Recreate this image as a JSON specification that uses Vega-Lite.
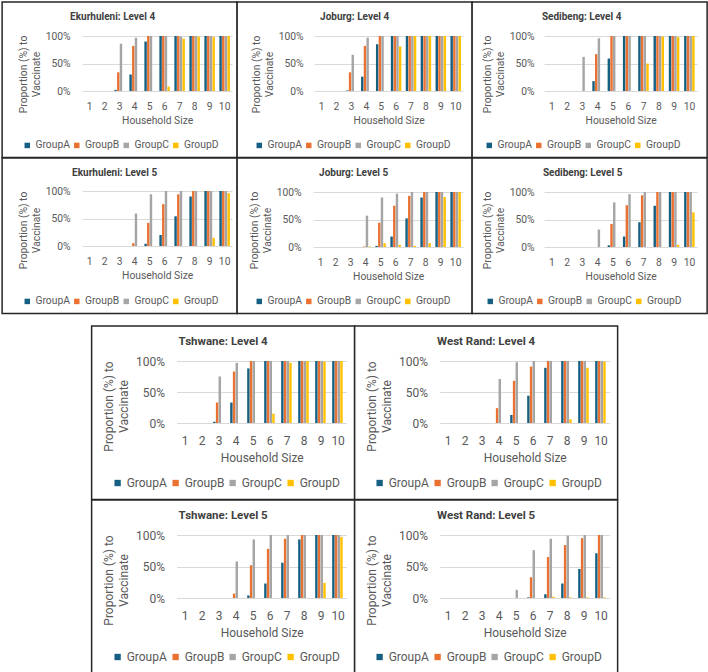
{
  "$schema": "https://vega.github.io/schema/vega-lite/v6.json",
  "padding": {"left": 1, "top": 1, "right": 1, "bottom": 1},
  "background": "white",
  "data": {
    "values": [
      {"panel": "EK4", "size": 3, "group": "GroupA", "p": 0.02},
      {"panel": "EK4", "size": 3, "group": "GroupB", "p": 0.34},
      {"panel": "EK4", "size": 3, "group": "GroupC", "p": 0.86},
      {"panel": "EK4", "size": 4, "group": "GroupA", "p": 0.30},
      {"panel": "EK4", "size": 4, "group": "GroupB", "p": 0.82},
      {"panel": "EK4", "size": 4, "group": "GroupC", "p": 0.97},
      {"panel": "EK4", "size": 5, "group": "GroupA", "p": 0.90},
      {"panel": "EK4", "size": 5, "group": "GroupB", "p": 1},
      {"panel": "EK4", "size": 5, "group": "GroupC", "p": 1},
      {"panel": "EK4", "size": 6, "group": "GroupA", "p": 1},
      {"panel": "EK4", "size": 6, "group": "GroupB", "p": 1},
      {"panel": "EK4", "size": 6, "group": "GroupC", "p": 1},
      {"panel": "EK4", "size": 6, "group": "GroupD", "p": 0.08},
      {"panel": "EK4", "size": 7, "group": "GroupA", "p": 1},
      {"panel": "EK4", "size": 7, "group": "GroupB", "p": 1},
      {"panel": "EK4", "size": 7, "group": "GroupC", "p": 0.99},
      {"panel": "EK4", "size": 7, "group": "GroupD", "p": 0.95},
      {"panel": "EK4", "size": 8, "group": "GroupA", "p": 1},
      {"panel": "EK4", "size": 8, "group": "GroupB", "p": 1},
      {"panel": "EK4", "size": 8, "group": "GroupC", "p": 1},
      {"panel": "EK4", "size": 8, "group": "GroupD", "p": 0.99},
      {"panel": "EK4", "size": 9, "group": "GroupA", "p": 1},
      {"panel": "EK4", "size": 9, "group": "GroupB", "p": 1},
      {"panel": "EK4", "size": 9, "group": "GroupC", "p": 1},
      {"panel": "EK4", "size": 9, "group": "GroupD", "p": 0.98},
      {"panel": "EK4", "size": 10, "group": "GroupA", "p": 1},
      {"panel": "EK4", "size": 10, "group": "GroupB", "p": 1},
      {"panel": "EK4", "size": 10, "group": "GroupC", "p": 1},
      {"panel": "EK4", "size": 10, "group": "GroupD", "p": 1},

      {"panel": "JO4", "size": 3, "group": "GroupA", "p": 0.01},
      {"panel": "JO4", "size": 3, "group": "GroupB", "p": 0.34},
      {"panel": "JO4", "size": 3, "group": "GroupC", "p": 0.66},
      {"panel": "JO4", "size": 4, "group": "GroupA", "p": 0.26},
      {"panel": "JO4", "size": 4, "group": "GroupB", "p": 0.82},
      {"panel": "JO4", "size": 4, "group": "GroupC", "p": 0.97},
      {"panel": "JO4", "size": 5, "group": "GroupA", "p": 0.85},
      {"panel": "JO4", "size": 5, "group": "GroupB", "p": 1},
      {"panel": "JO4", "size": 5, "group": "GroupC", "p": 1},
      {"panel": "JO4", "size": 6, "group": "GroupA", "p": 1},
      {"panel": "JO4", "size": 6, "group": "GroupB", "p": 1},
      {"panel": "JO4", "size": 6, "group": "GroupC", "p": 1},
      {"panel": "JO4", "size": 6, "group": "GroupD", "p": 0.81},
      {"panel": "JO4", "size": 7, "group": "GroupA", "p": 1},
      {"panel": "JO4", "size": 7, "group": "GroupB", "p": 1},
      {"panel": "JO4", "size": 7, "group": "GroupC", "p": 1},
      {"panel": "JO4", "size": 7, "group": "GroupD", "p": 1},
      {"panel": "JO4", "size": 8, "group": "GroupA", "p": 1},
      {"panel": "JO4", "size": 8, "group": "GroupB", "p": 1},
      {"panel": "JO4", "size": 8, "group": "GroupC", "p": 1},
      {"panel": "JO4", "size": 8, "group": "GroupD", "p": 1},
      {"panel": "JO4", "size": 9, "group": "GroupA", "p": 1},
      {"panel": "JO4", "size": 9, "group": "GroupB", "p": 1},
      {"panel": "JO4", "size": 9, "group": "GroupC", "p": 1},
      {"panel": "JO4", "size": 9, "group": "GroupD", "p": 1},
      {"panel": "JO4", "size": 10, "group": "GroupA", "p": 1},
      {"panel": "JO4", "size": 10, "group": "GroupB", "p": 1},
      {"panel": "JO4", "size": 10, "group": "GroupC", "p": 1},
      {"panel": "JO4", "size": 10, "group": "GroupD", "p": 1},

      {"panel": "SE4", "size": 3, "group": "GroupC", "p": 0.62},
      {"panel": "SE4", "size": 4, "group": "GroupA", "p": 0.18},
      {"panel": "SE4", "size": 4, "group": "GroupB", "p": 0.67},
      {"panel": "SE4", "size": 4, "group": "GroupC", "p": 0.96},
      {"panel": "SE4", "size": 5, "group": "GroupA", "p": 0.59},
      {"panel": "SE4", "size": 5, "group": "GroupB", "p": 1},
      {"panel": "SE4", "size": 5, "group": "GroupC", "p": 1},
      {"panel": "SE4", "size": 6, "group": "GroupA", "p": 1},
      {"panel": "SE4", "size": 6, "group": "GroupB", "p": 1},
      {"panel": "SE4", "size": 6, "group": "GroupC", "p": 1},
      {"panel": "SE4", "size": 7, "group": "GroupA", "p": 1},
      {"panel": "SE4", "size": 7, "group": "GroupB", "p": 1},
      {"panel": "SE4", "size": 7, "group": "GroupC", "p": 1},
      {"panel": "SE4", "size": 7, "group": "GroupD", "p": 0.50},
      {"panel": "SE4", "size": 8, "group": "GroupA", "p": 1},
      {"panel": "SE4", "size": 8, "group": "GroupB", "p": 1},
      {"panel": "SE4", "size": 8, "group": "GroupC", "p": 1},
      {"panel": "SE4", "size": 8, "group": "GroupD", "p": 0.99},
      {"panel": "SE4", "size": 9, "group": "GroupA", "p": 1},
      {"panel": "SE4", "size": 9, "group": "GroupB", "p": 1},
      {"panel": "SE4", "size": 9, "group": "GroupC", "p": 1},
      {"panel": "SE4", "size": 9, "group": "GroupD", "p": 0.98},
      {"panel": "SE4", "size": 10, "group": "GroupA", "p": 1},
      {"panel": "SE4", "size": 10, "group": "GroupB", "p": 1},
      {"panel": "SE4", "size": 10, "group": "GroupC", "p": 1},
      {"panel": "SE4", "size": 10, "group": "GroupD", "p": 1},

      {"panel": "EK5", "size": 4, "group": "GroupB", "p": 0.05},
      {"panel": "EK5", "size": 4, "group": "GroupC", "p": 0.59},
      {"panel": "EK5", "size": 5, "group": "GroupA", "p": 0.04},
      {"panel": "EK5", "size": 5, "group": "GroupB", "p": 0.42},
      {"panel": "EK5", "size": 5, "group": "GroupC", "p": 0.94},
      {"panel": "EK5", "size": 6, "group": "GroupA", "p": 0.20},
      {"panel": "EK5", "size": 6, "group": "GroupB", "p": 0.76},
      {"panel": "EK5", "size": 6, "group": "GroupC", "p": 1},
      {"panel": "EK5", "size": 7, "group": "GroupA", "p": 0.54},
      {"panel": "EK5", "size": 7, "group": "GroupB", "p": 0.94},
      {"panel": "EK5", "size": 7, "group": "GroupC", "p": 1},
      {"panel": "EK5", "size": 8, "group": "GroupA", "p": 0.90},
      {"panel": "EK5", "size": 8, "group": "GroupB", "p": 1},
      {"panel": "EK5", "size": 8, "group": "GroupC", "p": 1},
      {"panel": "EK5", "size": 9, "group": "GroupA", "p": 1},
      {"panel": "EK5", "size": 9, "group": "GroupB", "p": 1},
      {"panel": "EK5", "size": 9, "group": "GroupC", "p": 1},
      {"panel": "EK5", "size": 9, "group": "GroupD", "p": 0.15},
      {"panel": "EK5", "size": 10, "group": "GroupA", "p": 1},
      {"panel": "EK5", "size": 10, "group": "GroupB", "p": 1},
      {"panel": "EK5", "size": 10, "group": "GroupC", "p": 1},
      {"panel": "EK5", "size": 10, "group": "GroupD", "p": 0.96},

      {"panel": "JO5", "size": 4, "group": "GroupB", "p": 0.01},
      {"panel": "JO5", "size": 4, "group": "GroupC", "p": 0.57},
      {"panel": "JO5", "size": 4, "group": "GroupD", "p": 0.01},
      {"panel": "JO5", "size": 5, "group": "GroupA", "p": 0.02},
      {"panel": "JO5", "size": 5, "group": "GroupB", "p": 0.44},
      {"panel": "JO5", "size": 5, "group": "GroupC", "p": 0.90},
      {"panel": "JO5", "size": 5, "group": "GroupD", "p": 0.07},
      {"panel": "JO5", "size": 6, "group": "GroupA", "p": 0.19},
      {"panel": "JO5", "size": 6, "group": "GroupB", "p": 0.75},
      {"panel": "JO5", "size": 6, "group": "GroupC", "p": 0.97},
      {"panel": "JO5", "size": 6, "group": "GroupD", "p": 0.04},
      {"panel": "JO5", "size": 7, "group": "GroupA", "p": 0.52},
      {"panel": "JO5", "size": 7, "group": "GroupB", "p": 0.93},
      {"panel": "JO5", "size": 7, "group": "GroupC", "p": 1},
      {"panel": "JO5", "size": 7, "group": "GroupD", "p": 0.02},
      {"panel": "JO5", "size": 8, "group": "GroupA", "p": 0.90},
      {"panel": "JO5", "size": 8, "group": "GroupB", "p": 1},
      {"panel": "JO5", "size": 8, "group": "GroupC", "p": 1},
      {"panel": "JO5", "size": 8, "group": "GroupD", "p": 0.07},
      {"panel": "JO5", "size": 9, "group": "GroupA", "p": 1},
      {"panel": "JO5", "size": 9, "group": "GroupB", "p": 1},
      {"panel": "JO5", "size": 9, "group": "GroupC", "p": 1},
      {"panel": "JO5", "size": 9, "group": "GroupD", "p": 0.91},
      {"panel": "JO5", "size": 10, "group": "GroupA", "p": 1},
      {"panel": "JO5", "size": 10, "group": "GroupB", "p": 1},
      {"panel": "JO5", "size": 10, "group": "GroupC", "p": 1},
      {"panel": "JO5", "size": 10, "group": "GroupD", "p": 1},

      {"panel": "SE5", "size": 4, "group": "GroupC", "p": 0.32},
      {"panel": "SE5", "size": 5, "group": "GroupA", "p": 0.03},
      {"panel": "SE5", "size": 5, "group": "GroupB", "p": 0.42},
      {"panel": "SE5", "size": 5, "group": "GroupC", "p": 0.81},
      {"panel": "SE5", "size": 6, "group": "GroupA", "p": 0.19},
      {"panel": "SE5", "size": 6, "group": "GroupB", "p": 0.76},
      {"panel": "SE5", "size": 6, "group": "GroupC", "p": 0.96},
      {"panel": "SE5", "size": 7, "group": "GroupA", "p": 0.45},
      {"panel": "SE5", "size": 7, "group": "GroupB", "p": 0.94},
      {"panel": "SE5", "size": 7, "group": "GroupC", "p": 1},
      {"panel": "SE5", "size": 8, "group": "GroupA", "p": 0.75},
      {"panel": "SE5", "size": 8, "group": "GroupB", "p": 1},
      {"panel": "SE5", "size": 8, "group": "GroupC", "p": 1},
      {"panel": "SE5", "size": 9, "group": "GroupA", "p": 1},
      {"panel": "SE5", "size": 9, "group": "GroupB", "p": 1},
      {"panel": "SE5", "size": 9, "group": "GroupC", "p": 1},
      {"panel": "SE5", "size": 9, "group": "GroupD", "p": 0.04},
      {"panel": "SE5", "size": 10, "group": "GroupA", "p": 1},
      {"panel": "SE5", "size": 10, "group": "GroupB", "p": 1},
      {"panel": "SE5", "size": 10, "group": "GroupC", "p": 1},
      {"panel": "SE5", "size": 10, "group": "GroupD", "p": 0.63},

      {"panel": "TS4", "size": 3, "group": "GroupA", "p": 0.02},
      {"panel": "TS4", "size": 3, "group": "GroupB", "p": 0.33},
      {"panel": "TS4", "size": 3, "group": "GroupC", "p": 0.75},
      {"panel": "TS4", "size": 4, "group": "GroupA", "p": 0.33},
      {"panel": "TS4", "size": 4, "group": "GroupB", "p": 0.83},
      {"panel": "TS4", "size": 4, "group": "GroupC", "p": 0.97},
      {"panel": "TS4", "size": 5, "group": "GroupA", "p": 0.88},
      {"panel": "TS4", "size": 5, "group": "GroupB", "p": 1},
      {"panel": "TS4", "size": 5, "group": "GroupC", "p": 1},
      {"panel": "TS4", "size": 6, "group": "GroupA", "p": 1},
      {"panel": "TS4", "size": 6, "group": "GroupB", "p": 1},
      {"panel": "TS4", "size": 6, "group": "GroupC", "p": 1},
      {"panel": "TS4", "size": 6, "group": "GroupD", "p": 0.15},
      {"panel": "TS4", "size": 7, "group": "GroupA", "p": 1},
      {"panel": "TS4", "size": 7, "group": "GroupB", "p": 1},
      {"panel": "TS4", "size": 7, "group": "GroupC", "p": 1},
      {"panel": "TS4", "size": 7, "group": "GroupD", "p": 0.97},
      {"panel": "TS4", "size": 8, "group": "GroupA", "p": 1},
      {"panel": "TS4", "size": 8, "group": "GroupB", "p": 1},
      {"panel": "TS4", "size": 8, "group": "GroupC", "p": 1},
      {"panel": "TS4", "size": 8, "group": "GroupD", "p": 1},
      {"panel": "TS4", "size": 9, "group": "GroupA", "p": 1},
      {"panel": "TS4", "size": 9, "group": "GroupB", "p": 1},
      {"panel": "TS4", "size": 9, "group": "GroupC", "p": 1},
      {"panel": "TS4", "size": 9, "group": "GroupD", "p": 0.99},
      {"panel": "TS4", "size": 10, "group": "GroupA", "p": 1},
      {"panel": "TS4", "size": 10, "group": "GroupB", "p": 1},
      {"panel": "TS4", "size": 10, "group": "GroupC", "p": 1},
      {"panel": "TS4", "size": 10, "group": "GroupD", "p": 1},

      {"panel": "WR4", "size": 4, "group": "GroupB", "p": 0.24},
      {"panel": "WR4", "size": 4, "group": "GroupC", "p": 0.71},
      {"panel": "WR4", "size": 5, "group": "GroupA", "p": 0.13},
      {"panel": "WR4", "size": 5, "group": "GroupB", "p": 0.68},
      {"panel": "WR4", "size": 5, "group": "GroupC", "p": 0.98},
      {"panel": "WR4", "size": 6, "group": "GroupA", "p": 0.44},
      {"panel": "WR4", "size": 6, "group": "GroupB", "p": 0.91},
      {"panel": "WR4", "size": 6, "group": "GroupC", "p": 1},
      {"panel": "WR4", "size": 7, "group": "GroupA", "p": 0.89},
      {"panel": "WR4", "size": 7, "group": "GroupB", "p": 1},
      {"panel": "WR4", "size": 7, "group": "GroupC", "p": 1},
      {"panel": "WR4", "size": 8, "group": "GroupA", "p": 1},
      {"panel": "WR4", "size": 8, "group": "GroupB", "p": 1},
      {"panel": "WR4", "size": 8, "group": "GroupC", "p": 1},
      {"panel": "WR4", "size": 8, "group": "GroupD", "p": 0.06},
      {"panel": "WR4", "size": 9, "group": "GroupA", "p": 1},
      {"panel": "WR4", "size": 9, "group": "GroupB", "p": 1},
      {"panel": "WR4", "size": 9, "group": "GroupC", "p": 1},
      {"panel": "WR4", "size": 9, "group": "GroupD", "p": 0.89},
      {"panel": "WR4", "size": 10, "group": "GroupA", "p": 1},
      {"panel": "WR4", "size": 10, "group": "GroupB", "p": 1},
      {"panel": "WR4", "size": 10, "group": "GroupC", "p": 1},
      {"panel": "WR4", "size": 10, "group": "GroupD", "p": 0.99},

      {"panel": "TS5", "size": 4, "group": "GroupB", "p": 0.07},
      {"panel": "TS5", "size": 4, "group": "GroupC", "p": 0.58},
      {"panel": "TS5", "size": 5, "group": "GroupA", "p": 0.04},
      {"panel": "TS5", "size": 5, "group": "GroupB", "p": 0.52},
      {"panel": "TS5", "size": 5, "group": "GroupC", "p": 0.93},
      {"panel": "TS5", "size": 6, "group": "GroupA", "p": 0.23},
      {"panel": "TS5", "size": 6, "group": "GroupB", "p": 0.78},
      {"panel": "TS5", "size": 6, "group": "GroupC", "p": 1},
      {"panel": "TS5", "size": 7, "group": "GroupA", "p": 0.56},
      {"panel": "TS5", "size": 7, "group": "GroupB", "p": 0.94},
      {"panel": "TS5", "size": 7, "group": "GroupC", "p": 1},
      {"panel": "TS5", "size": 8, "group": "GroupA", "p": 0.93},
      {"panel": "TS5", "size": 8, "group": "GroupB", "p": 1},
      {"panel": "TS5", "size": 8, "group": "GroupC", "p": 1},
      {"panel": "TS5", "size": 9, "group": "GroupA", "p": 1},
      {"panel": "TS5", "size": 9, "group": "GroupB", "p": 1},
      {"panel": "TS5", "size": 9, "group": "GroupC", "p": 1},
      {"panel": "TS5", "size": 9, "group": "GroupD", "p": 0.24},
      {"panel": "TS5", "size": 10, "group": "GroupA", "p": 1},
      {"panel": "TS5", "size": 10, "group": "GroupB", "p": 1},
      {"panel": "TS5", "size": 10, "group": "GroupC", "p": 1},
      {"panel": "TS5", "size": 10, "group": "GroupD", "p": 0.97},

      {"panel": "WR5", "size": 5, "group": "GroupC", "p": 0.13},
      {"panel": "WR5", "size": 6, "group": "GroupA", "p": 0.01},
      {"panel": "WR5", "size": 6, "group": "GroupB", "p": 0.33},
      {"panel": "WR5", "size": 6, "group": "GroupC", "p": 0.76},
      {"panel": "WR5", "size": 7, "group": "GroupA", "p": 0.06},
      {"panel": "WR5", "size": 7, "group": "GroupB", "p": 0.65},
      {"panel": "WR5", "size": 7, "group": "GroupC", "p": 0.94},
      {"panel": "WR5", "size": 7, "group": "GroupD", "p": 0.02},
      {"panel": "WR5", "size": 8, "group": "GroupA", "p": 0.23},
      {"panel": "WR5", "size": 8, "group": "GroupB", "p": 0.84},
      {"panel": "WR5", "size": 8, "group": "GroupC", "p": 0.99},
      {"panel": "WR5", "size": 8, "group": "GroupD", "p": 0.01},
      {"panel": "WR5", "size": 9, "group": "GroupA", "p": 0.46},
      {"panel": "WR5", "size": 9, "group": "GroupB", "p": 0.95},
      {"panel": "WR5", "size": 9, "group": "GroupC", "p": 1},
      {"panel": "WR5", "size": 9, "group": "GroupD", "p": 0.01},
      {"panel": "WR5", "size": 10, "group": "GroupA", "p": 0.71},
      {"panel": "WR5", "size": 10, "group": "GroupB", "p": 1},
      {"panel": "WR5", "size": 10, "group": "GroupC", "p": 1},
      {"panel": "WR5", "size": 10, "group": "GroupD", "p": 0.01}
    ]
  },
  "spacing": 10,
  "center": true,
  "resolve": {"scale": {"color": "independent"}, "legend": {"color": "independent"}},
  "vconcat": [
    {
      "columns": 3,
      "spacing": 0,
      "bounds": "flush",
      "resolve": {"scale": {"color": "independent"}, "legend": {"color": "independent"}},
      "concat": [
        {
          "width": 235, "height": 155.5,
          "title": {"text": "Ekurhuleni: Level 4", "dx": -7, "offset": -20, "fontSize": 10},
          "transform": [{"filter": "datum.panel == 'EK4'"}],
          "mark": "bar",
          "encoding": {
            "x": {"field": "size", "type": "ordinal", "title": "Household Size",
              "scale": {"domain": [1, 2, 3, 4, 5, 6, 7, 8, 9, 10], "range": [80, 230], "paddingInner": 0.3, "paddingOuter": 0.15},
              "axis": {"offset": -66.5, "labelPadding": 10, "titlePadding": 4, "labelFontSize": 10.3, "titleFontSize": 10.3}},
            "xOffset": {"field": "group", "type": "nominal", "scale": {"domain": ["GroupA", "GroupB", "GroupC", "GroupD"], "paddingInner": 0.1}},
            "y": {"field": "p", "type": "quantitative", "title": ["Proportion (%) to", "Vaccinate"],
              "scale": {"domain": [0, 1], "range": [89, 34]},
              "axis": {"offset": -70, "values": [0, 0.5, 1], "format": ".0%", "labelFontSize": 10.3, "titleFontSize": 10.3, "titleY": 72, "titlePadding": 4, "titleLineHeight": 13}},
            "color": {"field": "group", "type": "nominal", "title": null,
              "scale": {"domain": ["GroupA", "GroupB", "GroupC", "GroupD"], "range": ["#156082", "#E97132", "#A5A5A5", "#FFC000"]},
              "legend": {"legendX": 20, "legendY": 138, "labelFontSize": 10.3, "symbolSize": 30, "columnPadding": 1.5}}
          }
        },
        {
          "width": 235, "height": 155.5,
          "title": {"text": "Joburg: Level 4", "dx": 0, "offset": -20, "fontSize": 10},
          "transform": [{"filter": "datum.panel == 'JO4'"}],
          "mark": "bar",
          "encoding": {
            "x": {"field": "size", "type": "ordinal", "title": "Household Size",
              "scale": {"domain": [1, 2, 3, 4, 5, 6, 7, 8, 9, 10], "range": [77, 226], "paddingInner": 0.3, "paddingOuter": 0.15},
              "axis": {"offset": -66.5, "labelPadding": 10, "titlePadding": 4, "labelFontSize": 10.3, "titleFontSize": 10.3}},
            "xOffset": {"field": "group", "type": "nominal", "scale": {"domain": ["GroupA", "GroupB", "GroupC", "GroupD"], "paddingInner": 0.1}},
            "y": {"field": "p", "type": "quantitative", "title": ["Proportion (%) to", "Vaccinate"],
              "scale": {"domain": [0, 1], "range": [89, 34]},
              "axis": {"offset": -68, "values": [0, 0.5, 1], "format": ".0%", "labelFontSize": 10.3, "titleFontSize": 10.3, "titleY": 72, "titlePadding": 4, "titleLineHeight": 13}},
            "color": {"field": "group", "type": "nominal", "title": null,
              "scale": {"domain": ["GroupA", "GroupB", "GroupC", "GroupD"], "range": ["#156082", "#E97132", "#A5A5A5", "#FFC000"]},
              "legend": {"legendX": 17, "legendY": 138, "labelFontSize": 10.3, "symbolSize": 30, "columnPadding": 1.5}}
          }
        },
        {
          "width": 235, "height": 155.5,
          "title": {"text": "Sedibeng: Level 4", "dx": -8, "offset": -20, "fontSize": 10},
          "transform": [{"filter": "datum.panel == 'SE4'"}],
          "mark": "bar",
          "encoding": {
            "x": {"field": "size", "type": "ordinal", "title": "Household Size",
              "scale": {"domain": [1, 2, 3, 4, 5, 6, 7, 8, 9, 10], "range": [72, 225], "paddingInner": 0.3, "paddingOuter": 0.15},
              "axis": {"offset": -66.5, "labelPadding": 10, "titlePadding": 4, "labelFontSize": 10.3, "titleFontSize": 10.3}},
            "xOffset": {"field": "group", "type": "nominal", "scale": {"domain": ["GroupA", "GroupB", "GroupC", "GroupD"], "paddingInner": 0.1}},
            "y": {"field": "p", "type": "quantitative", "title": ["Proportion (%) to", "Vaccinate"],
              "scale": {"domain": [0, 1], "range": [89, 34]},
              "axis": {"offset": -64, "values": [0, 0.5, 1], "format": ".0%", "labelFontSize": 10.3, "titleFontSize": 10.3, "titleY": 72, "titlePadding": 4, "titleLineHeight": 13}},
            "color": {"field": "group", "type": "nominal", "title": null,
              "scale": {"domain": ["GroupA", "GroupB", "GroupC", "GroupD"], "range": ["#156082", "#E97132", "#A5A5A5", "#FFC000"]},
              "legend": {"legendX": 12, "legendY": 138, "labelFontSize": 10.3, "symbolSize": 30, "columnPadding": 1.5}}
          }
        },
        {
          "width": 235, "height": 155.5,
          "title": {"text": "Ekurhuleni: Level 5", "dx": -5, "offset": -20, "fontSize": 10},
          "transform": [{"filter": "datum.panel == 'EK5'"}],
          "mark": "bar",
          "encoding": {
            "x": {"field": "size", "type": "ordinal", "title": "Household Size",
              "scale": {"domain": [1, 2, 3, 4, 5, 6, 7, 8, 9, 10], "range": [80, 230], "paddingInner": 0.3, "paddingOuter": 0.15},
              "axis": {"offset": -67.5, "labelPadding": 10, "titlePadding": 4, "labelFontSize": 10.3, "titleFontSize": 10.3}},
            "xOffset": {"field": "group", "type": "nominal", "scale": {"domain": ["GroupA", "GroupB", "GroupC", "GroupD"], "paddingInner": 0.1}},
            "y": {"field": "p", "type": "quantitative", "title": ["Proportion (%) to", "Vaccinate"],
              "scale": {"domain": [0, 1], "range": [88, 33]},
              "axis": {"offset": -70, "values": [0, 0.5, 1], "format": ".0%", "labelFontSize": 10.3, "titleFontSize": 10.3, "titleY": 72, "titlePadding": 4, "titleLineHeight": 13}},
            "color": {"field": "group", "type": "nominal", "title": null,
              "scale": {"domain": ["GroupA", "GroupB", "GroupC", "GroupD"], "range": ["#156082", "#E97132", "#A5A5A5", "#FFC000"]},
              "legend": {"legendX": 20, "legendY": 138, "labelFontSize": 10.3, "symbolSize": 30, "columnPadding": 1.5}}
          }
        },
        {
          "width": 235, "height": 155.5,
          "title": {"text": "Joburg: Level 5", "dx": -1, "offset": -20, "fontSize": 10},
          "transform": [{"filter": "datum.panel == 'JO5'"}],
          "mark": "bar",
          "encoding": {
            "x": {"field": "size", "type": "ordinal", "title": "Household Size",
              "scale": {"domain": [1, 2, 3, 4, 5, 6, 7, 8, 9, 10], "range": [76, 226], "paddingInner": 0.3, "paddingOuter": 0.15},
              "axis": {"offset": -66.5, "labelPadding": 10, "titlePadding": 4, "labelFontSize": 10.3, "titleFontSize": 10.3}},
            "xOffset": {"field": "group", "type": "nominal", "scale": {"domain": ["GroupA", "GroupB", "GroupC", "GroupD"], "paddingInner": 0.1}},
            "y": {"field": "p", "type": "quantitative", "title": ["Proportion (%) to", "Vaccinate"],
              "scale": {"domain": [0, 1], "range": [89, 34]},
              "axis": {"offset": -66, "values": [0, 0.5, 1], "format": ".0%", "labelFontSize": 10.3, "titleFontSize": 10.3, "titleY": 72, "titlePadding": 4, "titleLineHeight": 13}},
            "color": {"field": "group", "type": "nominal", "title": null,
              "scale": {"domain": ["GroupA", "GroupB", "GroupC", "GroupD"], "range": ["#156082", "#E97132", "#A5A5A5", "#FFC000"]},
              "legend": {"legendX": 17, "legendY": 138, "labelFontSize": 10.3, "symbolSize": 30, "columnPadding": 1.5}}
          }
        },
        {
          "width": 235, "height": 155.5,
          "title": {"text": "Sedibeng: Level 5", "dx": -7, "offset": -20, "fontSize": 10},
          "transform": [{"filter": "datum.panel == 'SE5'"}],
          "mark": "bar",
          "encoding": {
            "x": {"field": "size", "type": "ordinal", "title": "Household Size",
              "scale": {"domain": [1, 2, 3, 4, 5, 6, 7, 8, 9, 10], "range": [72, 225], "paddingInner": 0.3, "paddingOuter": 0.15},
              "axis": {"offset": -66.5, "labelPadding": 10, "titlePadding": 4, "labelFontSize": 10.3, "titleFontSize": 10.3}},
            "xOffset": {"field": "group", "type": "nominal", "scale": {"domain": ["GroupA", "GroupB", "GroupC", "GroupD"], "paddingInner": 0.1}},
            "y": {"field": "p", "type": "quantitative", "title": ["Proportion (%) to", "Vaccinate"],
              "scale": {"domain": [0, 1], "range": [89, 34]},
              "axis": {"offset": -64, "values": [0, 0.5, 1], "format": ".0%", "labelFontSize": 10.3, "titleFontSize": 10.3, "titleY": 72, "titlePadding": 4, "titleLineHeight": 13}},
            "color": {"field": "group", "type": "nominal", "title": null,
              "scale": {"domain": ["GroupA", "GroupB", "GroupC", "GroupD"], "range": ["#156082", "#E97132", "#A5A5A5", "#FFC000"]},
              "legend": {"legendX": 13, "legendY": 138, "labelFontSize": 10.3, "symbolSize": 30, "columnPadding": 1.5}}
          }
        }
      ]
    },
    {
      "columns": 2,
      "spacing": 0,
      "bounds": "flush",
      "resolve": {"scale": {"color": "independent"}, "legend": {"color": "independent"}},
      "concat": [
        {
          "width": 263, "height": 173.5,
          "title": {"text": "Tshwane: Level 4", "offset": -21, "fontSize": 11.5},
          "transform": [{"filter": "datum.panel == 'TS4'"}],
          "mark": "bar",
          "encoding": {
            "x": {"field": "size", "type": "ordinal", "title": "Household Size",
              "scale": {"domain": [1, 2, 3, 4, 5, 6, 7, 8, 9, 10], "range": [85, 255], "paddingInner": 0.3, "paddingOuter": 0.15},
              "axis": {"offset": -76.5, "labelPadding": 12, "titlePadding": 6, "labelFontSize": 12, "titleFontSize": 12}},
            "xOffset": {"field": "group", "type": "nominal", "scale": {"domain": ["GroupA", "GroupB", "GroupC", "GroupD"], "paddingInner": 0.1}},
            "y": {"field": "p", "type": "quantitative", "title": ["Proportion (%) to", "Vaccinate"],
              "scale": {"domain": [0, 1], "range": [97, 35]},
              "axis": {"offset": -75, "values": [0, 0.5, 1], "format": ".0%", "labelFontSize": 12, "titleFontSize": 12, "titleY": 80, "titlePadding": 5, "titleLineHeight": 15}},
            "color": {"field": "group", "type": "nominal", "title": null,
              "scale": {"domain": ["GroupA", "GroupB", "GroupC", "GroupD"], "range": ["#156082", "#E97132", "#A5A5A5", "#FFC000"]},
              "legend": {"legendX": 20, "legendY": 151, "labelFontSize": 12, "symbolSize": 40, "columnPadding": 2}}
          }
        },
        {
          "width": 263, "height": 173.5,
          "title": {"text": "West Rand: Level 4", "offset": -21, "fontSize": 11.5},
          "transform": [{"filter": "datum.panel == 'WR4'"}],
          "mark": "bar",
          "encoding": {
            "x": {"field": "size", "type": "ordinal", "title": "Household Size",
              "scale": {"domain": [1, 2, 3, 4, 5, 6, 7, 8, 9, 10], "range": [85, 255], "paddingInner": 0.3, "paddingOuter": 0.15},
              "axis": {"offset": -76.5, "labelPadding": 12, "titlePadding": 6, "labelFontSize": 12, "titleFontSize": 12}},
            "xOffset": {"field": "group", "type": "nominal", "scale": {"domain": ["GroupA", "GroupB", "GroupC", "GroupD"], "paddingInner": 0.1}},
            "y": {"field": "p", "type": "quantitative", "title": ["Proportion (%) to", "Vaccinate"],
              "scale": {"domain": [0, 1], "range": [97, 35]},
              "axis": {"offset": -75, "values": [0, 0.5, 1], "format": ".0%", "labelFontSize": 12, "titleFontSize": 12, "titleY": 80, "titlePadding": 5, "titleLineHeight": 15}},
            "color": {"field": "group", "type": "nominal", "title": null,
              "scale": {"domain": ["GroupA", "GroupB", "GroupC", "GroupD"], "range": ["#156082", "#E97132", "#A5A5A5", "#FFC000"]},
              "legend": {"legendX": 19, "legendY": 151, "labelFontSize": 12, "symbolSize": 40, "columnPadding": 2}}
          }
        },
        {
          "width": 263, "height": 173.5,
          "title": {"text": "Tshwane: Level 5", "offset": -21, "fontSize": 11.5},
          "transform": [{"filter": "datum.panel == 'TS5'"}],
          "mark": "bar",
          "encoding": {
            "x": {"field": "size", "type": "ordinal", "title": "Household Size",
              "scale": {"domain": [1, 2, 3, 4, 5, 6, 7, 8, 9, 10], "range": [85, 255], "paddingInner": 0.3, "paddingOuter": 0.15},
              "axis": {"offset": -75.5, "labelPadding": 12, "titlePadding": 6, "labelFontSize": 12, "titleFontSize": 12}},
            "xOffset": {"field": "group", "type": "nominal", "scale": {"domain": ["GroupA", "GroupB", "GroupC", "GroupD"], "paddingInner": 0.1}},
            "y": {"field": "p", "type": "quantitative", "title": ["Proportion (%) to", "Vaccinate"],
              "scale": {"domain": [0, 1], "range": [98, 35]},
              "axis": {"offset": -75, "values": [0, 0.5, 1], "format": ".0%", "labelFontSize": 12, "titleFontSize": 12, "titleY": 80, "titlePadding": 5, "titleLineHeight": 15}},
            "color": {"field": "group", "type": "nominal", "title": null,
              "scale": {"domain": ["GroupA", "GroupB", "GroupC", "GroupD"], "range": ["#156082", "#E97132", "#A5A5A5", "#FFC000"]},
              "legend": {"legendX": 20, "legendY": 151, "labelFontSize": 12, "symbolSize": 40, "columnPadding": 2}}
          }
        },
        {
          "width": 263, "height": 173.5,
          "title": {"text": "West Rand: Level 5", "offset": -21, "fontSize": 11.5},
          "transform": [{"filter": "datum.panel == 'WR5'"}],
          "mark": "bar",
          "encoding": {
            "x": {"field": "size", "type": "ordinal", "title": "Household Size",
              "scale": {"domain": [1, 2, 3, 4, 5, 6, 7, 8, 9, 10], "range": [85, 255], "paddingInner": 0.3, "paddingOuter": 0.15},
              "axis": {"offset": -75.5, "labelPadding": 12, "titlePadding": 6, "labelFontSize": 12, "titleFontSize": 12}},
            "xOffset": {"field": "group", "type": "nominal", "scale": {"domain": ["GroupA", "GroupB", "GroupC", "GroupD"], "paddingInner": 0.1}},
            "y": {"field": "p", "type": "quantitative", "title": ["Proportion (%) to", "Vaccinate"],
              "scale": {"domain": [0, 1], "range": [98, 35]},
              "axis": {"offset": -75, "values": [0, 0.5, 1], "format": ".0%", "labelFontSize": 12, "titleFontSize": 12, "titleY": 80, "titlePadding": 5, "titleLineHeight": 15}},
            "color": {"field": "group", "type": "nominal", "title": null,
              "scale": {"domain": ["GroupA", "GroupB", "GroupC", "GroupD"], "range": ["#156082", "#E97132", "#A5A5A5", "#FFC000"]},
              "legend": {"legendX": 19, "legendY": 151, "labelFontSize": 12, "symbolSize": 40, "columnPadding": 2}}
          }
        }
      ]
    }
  ],
  "config": {
    "font": "Roboto",
    "view": {"stroke": "#262626", "strokeWidth": 1.5, "fill": "white"},
    "axis": {"labelColor": "#595959", "titleColor": "#595959", "titleFontWeight": "normal", "ticks": false, "domain": false, "gridColor": "#D9D9D9", "labelFont": "Roboto", "titleFont": "Roboto"},
    "axisX": {"grid": false, "labelAngle": 0},
    "axisY": {"grid": true},
    "title": {"color": "#404040", "fontWeight": "bold", "anchor": "middle", "frame": "group", "font": "Roboto"},
    "legend": {"orient": "none", "direction": "horizontal", "symbolType": "square", "symbolStrokeWidth": 0, "labelColor": "#595959", "labelOffset": 3, "labelFont": "Roboto"}
  }
}
